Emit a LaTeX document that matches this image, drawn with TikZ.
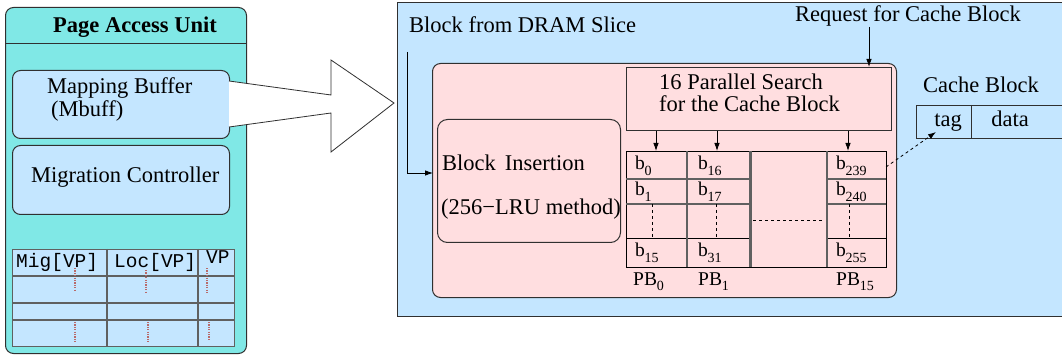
\documentclass[tikz,border=0pt]{standalone}
\usepackage{fontspec}
\setmainfont{Liberation Serif}
\setmonofont{Liberation Mono}
\usetikzlibrary{arrows.meta}

\definecolor{unitcyan}{HTML}{80E8E6}
\definecolor{paleblue}{HTML}{C4E6FF}
\definecolor{palepink}{HTML}{FFDEE0}
\definecolor{edge}{HTML}{303030}
\definecolor{gridgray}{HTML}{606060}
\definecolor{dotred}{HTML}{B86A6A}

% block label with a lowered index, e.g. b_16
\newcommand{\bsub}[2]{#1\kern-0.3pt\raisebox{-0.3em}{\fontsize{14}{14}\selectfont #2}}

\begin{document}
\begin{tikzpicture}[x=1pt,y=-1pt,
  lbl/.style={inner sep=0pt, font=\fontsize{22.5}{27}\selectfont},
  cell/.style={inner sep=0pt, font=\fontsize{19.5}{22}\selectfont},
  mono/.style={inner sep=0pt, font=\fontsize{19.5}{22}\selectfont\ttfamily},
  panel/.style={draw=edge, line width=1pt, anchor=north west, inner sep=0pt},
  gridline/.style={draw=gridgray, line width=1.4pt},
  sepline/.style={draw=gridgray, line width=2.6pt},
  thinline/.style={draw=black, line width=0.8pt},
  dots/.style={draw=dotred, line width=1.1pt, dash pattern=on 1.2pt off 1.2pt},
  arr/.style={draw=black, line width=0.8pt, -{Latex[length=8pt,width=5.5pt]}},
]
\useasboundingbox (0,0) rectangle (1062,355);

% ---------------- Page Access Unit ----------------
\node[panel, fill=unitcyan, rounded corners=8pt, minimum width=241pt, minimum height=346pt] (pau) at (5,7) {};
\draw[edge, line width=1pt] (5,44) -- (246,44);
\node[lbl, anchor=base, font=\fontsize{22.5}{27}\selectfont\bfseries] (pautitle) at (135,33) {Page Access Unit};

\node[panel, fill=paleblue, rounded corners=8pt, minimum width=217pt, minimum height=68pt] (mbuff) at (12,70) {};
\node[lbl, anchor=base west] (mbuffa) at (47,94) {Mapping Buffer};
\node[lbl, anchor=base west] (mbuffb) at (51,117) {(Mbuff)};

\node[panel, fill=paleblue, rounded corners=8pt, minimum width=217pt, minimum height=69pt] (migc) at (12,145) {};
\node[lbl, anchor=base west] (migctext) at (31,183) {Migration Controller};

% mapping table
\node[panel, fill=paleblue, draw=gridgray, line width=1.4pt, minimum width=222pt, minimum height=97pt] (maptab) at (12,249) {};
\foreach \y in {276,303,320} \draw[gridline] (12,\y) -- (234,\y);
\foreach \x in {107,198} \draw[gridline] (\x,249) -- (\x,346);
\node[mono, anchor=base west] (hmig) at (16,267) {Mig[VP]};
\node[mono, anchor=base west] (hloc) at (114,267) {Loc[VP]};
\node[mono, anchor=base west] (hvp) at (206,263) {VP};
\draw[dots] (75,268) -- (75,290);
\draw[dots] (146,270) -- (146,293);
\draw[dots] (207,268) -- (207,293);
\draw[dots] (75,322) -- (75,343);
\draw[dots] (148,322) -- (148,343);
\draw[dots] (209,322) -- (209,340);

% ---------------- transfer arrow ----------------
\coordinate (sh1) at (229,81);
\coordinate (sh2) at (229,127);
\draw[edge, fill=white, line width=0.8pt]
  (sh1) -- (331,95) -- (331,60) -- (394,103) -- (331,152) -- (331,113) -- (sh2);

% ---------------- DRAM slice side ----------------
\node[panel, fill=paleblue, minimum width=670pt, minimum height=314pt] (slice) at (397,2) {};
\node[lbl, anchor=base west] (dramtext) at (409,33) {Block from DRAM Slice};
\node[lbl, anchor=base west] (reqtext) at (795,22) {Request for Cache Block};

\node[panel, fill=palepink, rounded corners=8pt, minimum width=464pt, minimum height=234pt] (cachearr) at (432,63) {};

\node[panel, fill=palepink, line width=1.4pt, minimum width=265pt, minimum height=63pt] (search) at (626,67) {};
\node[lbl, anchor=base west] (searcha) at (659,90) {16 Parallel Search};
\node[lbl, anchor=base west] (searchb) at (659,112) {for the Cache Block};

\node[panel, fill=palepink, rounded corners=10pt, minimum width=183pt, minimum height=123pt] (insert) at (437,119) {};
\node[lbl, anchor=base west] (inserta) at (442,171) {Block\hspace{0.4em}Insertion};
\node[lbl, anchor=base west] (insertb) at (441,215) {(256−LRU method)};

% parallel block columns
\node[panel, fill=palepink, draw=black, line width=0.8pt, minimum width=260pt, minimum height=116pt] (ways) at (626,151) {};
\foreach \xa/\xb in {626/687, 687/750, 827/886} {
  \draw[gridline] (\xa,179) -- (\xb,179);
  \draw[gridline] (\xa,204) -- (\xb,204);
  \draw[thinline] (\xa,238) -- (\xb,238);
}
\foreach \x in {687,750.5,827} \draw[sepline] (\x,151) -- (\x,267);
\draw[thinline, dashed] (753,220) -- (823,220);
\foreach \x in {652,716,849} \draw[thinline, dashed] (\x,204) -- (\x,238);

\node[cell, anchor=base west] (b0) at (635,170) {\bsub{b}{0}};
\node[cell, anchor=base west] (b1) at (635,196) {\bsub{b}{1}};
\node[cell, anchor=base west] (b15) at (635,257) {\bsub{b}{15}};
\node[cell, anchor=base west] (b16) at (698,170) {\bsub{b}{16}};
\node[cell, anchor=base west] (b17) at (698,196) {\bsub{b}{17}};
\node[cell, anchor=base west] (b31) at (698,257) {\bsub{b}{31}};
\node[cell, anchor=base west] (b239) at (836,170) {\bsub{b}{239}};
\node[cell, anchor=base west] (b240) at (836,196) {\bsub{b}{240}};
\node[cell, anchor=base west] (b255) at (836,257) {\bsub{b}{255}};

\node[cell, anchor=base west] (pb0) at (633,285) {\bsub{PB}{0}};
\node[cell, anchor=base west] (pb1) at (698,285) {\bsub{PB}{1}};
\node[cell, anchor=base west] (pb15) at (836,285) {\bsub{PB}{15}};

% cache block layout
\node[lbl, anchor=base west] (cbtext) at (923,93) {Cache Block};
\node[panel, fill=paleblue, line width=0.9pt, minimum width=150pt, minimum height=33pt] (cblock) at (916,105) {};
\draw[edge, line width=0.9pt] (971,105) -- (971,138);
\node[lbl, anchor=base] (tagtext) at (948,127) {tag};
\node[lbl, anchor=base] (datatext) at (1010,127) {data};

% ---------------- connectors ----------------
\coordinate (reqfoot) at (869,27);
\draw[arr] (reqfoot) -- (search.north -| reqfoot);

\coordinate (w0) at (656,151);
\coordinate (w1) at (717,151);
\coordinate (w15) at (848,151);
\foreach \w in {w0,w1,w15} \draw[arr] (search.south -| \w) -- (\w);

\coordinate (dramfoot) at (407,52);
\coordinate (insin) at (433,173);
\draw[arr] (dramfoot) |- (insin);

\coordinate (b239out) at (886,167);
\coordinate (tagin) at (936,132);
\draw[arr, dashed] (b239out) -- (tagin);
\end{tikzpicture}
\end{document}
